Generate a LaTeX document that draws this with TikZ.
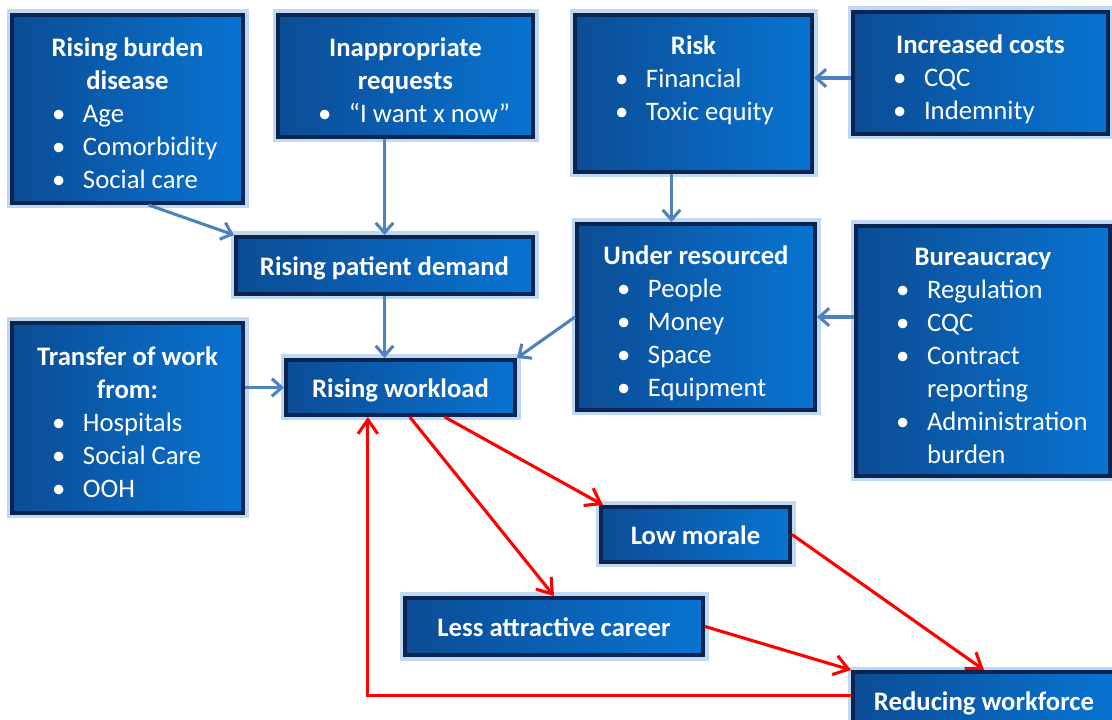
\documentclass[tikz,border=0pt]{standalone}
\usepackage{fontspec}
\setmainfont{Carlito}
\usepackage{tikz}
\usetikzlibrary{calc,positioning}
\usetikzlibrary{arrows.meta}
\newlength{\pxu}
\setlength{\pxu}{0.025cm}
\definecolor{boxnavy}{HTML}{0A2550}
\definecolor{boxdark}{HTML}{0C4C95}
\definecolor{boxlight}{HTML}{0874D1}
\definecolor{boxglow}{HTML}{8CB8E8}
\definecolor{linkblue}{HTML}{4F81BD}
\newcommand{\blist}[1]{\par\makebox[\hsize][l]{\begin{tabular}[t]{@{\hspace{40\pxu}}p{31\pxu}@{}l@{}}#1\end{tabular}}}

\begin{document}
\begin{tikzpicture}[x=\pxu,y=-\pxu,
card/.style 2 args={draw=boxnavy, line width=4\pxu, left color=boxdark, right color=boxlight,
  text=white, minimum width=#1\pxu, text width=#1\pxu, minimum height=#2\pxu, inner sep=0pt,
  align=flush center, font=\fontsize{19}{23.4}\selectfont,
  execute at begin node={\rule{0pt}{26pt}},
  preaction={draw=boxglow, line width=11\pxu, opacity=0.55}},
bar/.style 2 args={card={#1}{#2}, execute at begin node={\rule[-12pt]{0pt}{12pt}}},
bluelink/.style={draw=linkblue, line width=2.2pt, -{Straight Barb[length=7pt,width=12.5pt]}},
redlink/.style={draw=red, line width=2.2pt, -{Straight Barb[length=10pt,width=14pt]}}]
\useasboundingbox (0,0) rectangle (1112,720);
\clip (0,0) rectangle (1112,720);

\node (burden) at (127.5,109)[card={231}{188}] {\textbf{Rising burden}\\\textbf{disease}
  \blist{\textbullet & Age\\ \textbullet & Comorbidity\\ \textbullet & Social care}};
\node (requests) at (405.5,76)[card={255}{122}] {\textbf{Inappropriate}\\\textbf{requests}
  \blist{\textbullet & “I want x now”}};
\node (risk) at (693.5,93.5)[card={237}{157}] {\textbf{Risk}
  \blist{\textbullet & Financial\\ \textbullet & Toxic equity}\par\vspace*{27pt}};
\node (costs) at (980.5,73)[card={255}{122}] {\textbf{Increased costs}
  \blist{\textbullet & CQC\\ \textbullet & Indemnity}};
\node (demand) at (384.5,265.5)[bar={297}{57}] {\textbf{Rising patient demand}};
\node (underres) at (696,317)[card={238}{186}] {\textbf{Under resourced}
  \blist{\textbullet & People\\ \textbullet & Money\\ \textbullet & Space\\ \textbullet & Equipment}};
\node (bureau) at (983,351)[card={254}{250}] {\textbf{Bureaucracy}
  \blist{\textbullet & Regulation\\ \textbullet & CQC\\ \textbullet & Contract\\ & reporting\\
  \textbullet & Administration\\ & burden}};
\node (transfer) at (127.5,418)[card={231}{190}] {\textbf{Transfer of work}\\\textbf{from:}
  \blist{\textbullet & Hospitals\\ \textbullet & Social Care\\ \textbullet & OOH}};
\node (workload) at (400.5,387.5)[bar={229}{55}] {\textbf{Rising workload}};
\node (morale) at (695.5,534.5)[bar={189}{55}] {\textbf{Low morale}};
\node (career) at (554,626.5)[bar={298}{57}] {\textbf{Less attractive career}};
\node (workforce) at (984,700.5)[bar={262}{57}] {\textbf{Reducing workforce}};

\draw[bluelink] ($(burden.south west)!0.59!(burden.south east)$) -- (demand.north west);
\draw[bluelink] (requests.south -| demand.north) -- (demand.north);
\draw[bluelink] ([xshift=-22\pxu]risk.south) -- ([xshift=-22\pxu]risk.south |- underres.north);
\draw[bluelink] ([yshift=-5\pxu]costs.west) -- ([yshift=-5\pxu]costs.west -| risk.east);
\draw[bluelink] (demand.south) -- (demand.south |- workload.north);
\draw[bluelink] (underres.west) -- (workload.north east);
\draw[bluelink] (bureau.west |- underres.east) -- (underres.east);
\draw[bluelink] (transfer.east |- workload.west) -- (workload.west);

\draw[redlink] ($(workload.south west)!0.69!(workload.south east)$) -- ([xshift=4\pxu]morale.north west);
\draw[redlink] ($(workload.south west)!0.54!(workload.south east)$) -- (career.north);
\draw[redlink] (morale.east) -- (workforce.north);
\draw[redlink] (career.east) -- (workforce.north west);
\draw[redlink] ([yshift=5\pxu]workforce.west) -| ($(workload.south west)!0.36!(workload.south east)$);
\end{tikzpicture}
\end{document}
